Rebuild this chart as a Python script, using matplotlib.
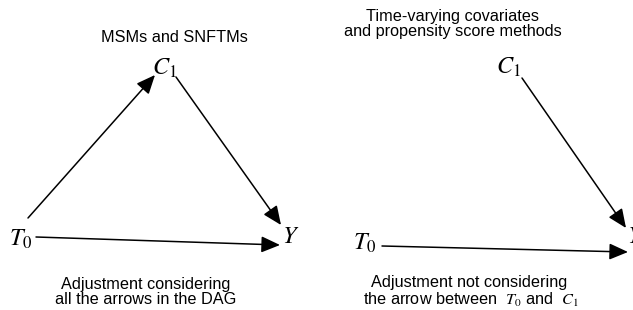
import matplotlib
matplotlib.use("Agg")
import matplotlib.pyplot as plt

plt.rcParams["font.family"] = ["Liberation Sans", "DejaVu Sans"]
plt.rcParams["mathtext.fontset"] = "stix"

# two DAG panels: titles, node labels, edges, captions
panel_titles = ["MSMs and SNFTMs", "Time-varying covariates\nand propensity score methods"]
node_labels = {"T0": r"$T_0$", "C1": r"$C_1$", "Y": r"$Y$"}
left_edges = [("T0", "C1"), ("C1", "Y"), ("T0", "Y")]
right_edges = [("C1", "Y"), ("T0", "Y")]
left_caption = "Adjustment considering\nall the arrows in the DAG"
right_caption_1 = "Adjustment not considering"
right_caption_2 = r"the arrow between  $T_0$ and  $C_1$"

# layout in pixel coords (y down)
left_nodes = {"T0": (21, 239), "C1": (164, 68), "Y": (291, 237)}
right_nodes = {"T0": (365, 243), "C1": (508, 67), "Y": (636, 237)}
left_ends = {("T0", "C1"): ((28, 218), (155, 75)),
             ("C1", "Y"): ((176, 77), (281, 225)),
             ("T0", "Y"): ((36, 237), (280, 245))}
right_ends = {("C1", "Y"): ((522, 78), (626, 228)),
              ("T0", "Y"): ((382, 246), (628, 252))}

fig = plt.figure(figsize=(6.33, 3.10), dpi=100)
ax = fig.add_axes([0, 0, 1, 1])
ax.set_xlim(0, 633)
ax.set_ylim(310, 0)
ax.axis("off")


def draw_panel(nodes, edges, ends):
    for key, (x, y) in nodes.items():
        ax.text(x, y, node_labels[key], fontsize=17.5, ha="center", va="center", clip_on=True)
    for e in edges:
        (x0, y0), (x1, y1) = ends[e]
        ax.annotate("", xy=(x1, y1), xytext=(x0, y0),
                    arrowprops=dict(arrowstyle="-|>,head_length=1.15,head_width=0.5",
                                    color="black", lw=1.1, shrinkA=0, shrinkB=0))


draw_panel(left_nodes, left_edges, left_ends)
draw_panel(right_nodes, right_edges, right_ends)

fs = 11.7
ax.text(174, 38, panel_titles[0], fontsize=fs, ha="center", va="center")
ax.text(453, 24, panel_titles[1], fontsize=fs, ha="center", va="center", linespacing=1.05)
ax.text(146, 292, left_caption, fontsize=fs, ha="center", va="center", linespacing=1.05)
ax.text(469, 283, right_caption_1, fontsize=fs, ha="center", va="center")
ax.text(471, 300, right_caption_2, fontsize=fs, ha="center", va="center")

fig.savefig("out.png", dpi=100)
